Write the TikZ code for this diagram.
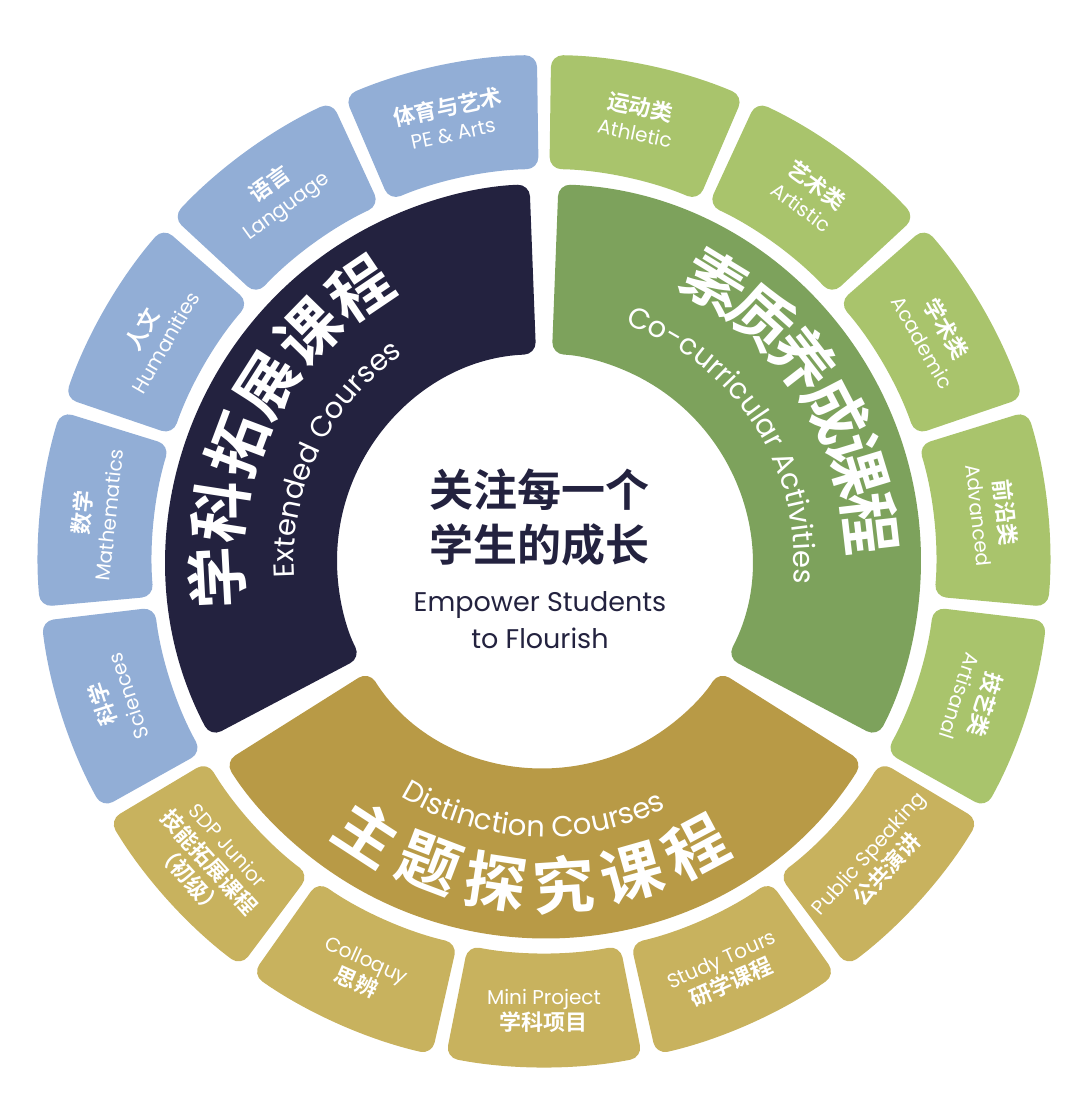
\documentclass[tikz,border=0pt]{standalone}
\usepackage{fontspec}
\setmainfont{Poppins}
\newfontfamily\cjk{Noto Sans CJK SC Bold}
\usetikzlibrary{decorations.text}
\definecolor{navy}{HTML}{23223F}
\definecolor{midgreen}{HTML}{7DA25C}
\definecolor{midgold}{HTML}{B89A46}
\definecolor{lblue}{HTML}{92AED6}
\definecolor{lgreen}{HTML}{A9C46C}
\definecolor{lgold}{HTML}{C8B25E}
\newcommand{\annsec}[5]{%
  \fill[#1, rounded corners=6pt] (#2:#4) arc[start angle=#2, end angle=#3, radius=#4]
    -- (#3:#5) arc[start angle=#3, end angle=#2, radius=#5] -- cycle;}
\newcommand{\ringfont}{\fontsize{14.5}{15}\selectfont}
\tikzset{
  seglab/.style={text=white, align=center, inner sep=0pt, font=\fontsize{10}{13}\selectfont},
  bigch/.style={text=white, inner sep=0pt, font=\cjk\fontsize{31}{31}\selectfont},
  ringtext/.style={decorate, decoration={text along path, text align=center, text color=white, text={|\ringfont|#1}}}
}
\begin{document}
\begin{tikzpicture}[x=0.5pt, y=0.5pt]
\useasboundingbox (-544,-558) rectangle (536,561);
% middle ring
\annsec{navy}{92.2}{207.8}{207}{377}
\annsec{midgold}{212.2}{327.8}{207}{377}
\annsec{midgreen}{-27.8}{87.8}{207}{377}
% outer ring
\foreach \a in {90,114,...,186} {\annsec{lblue}{\a+0.8}{\a+23.2}{392}{506}}
\foreach \a in {-30,-6,...,66} {\annsec{lgreen}{\a+0.8}{\a+23.2}{392}{506}}
\foreach \a in {210,234,...,306} {\annsec{lgold}{\a+0.8}{\a+23.2}{392}{506}}
% outer labels
\foreach \a/\c/\t in {102/体育与艺术/PE \& Arts, 126/语言/Language, 150/人文/Humanities,
    174/数学/Mathematics, 198/科学/Sciences, 78/运动类/Athletic, 54/艺术类/Artistic,
    30/学术类/Academic, 6/前沿类/Advanced, -18/技艺类/Artisanal}
  \node[seglab, rotate=\a-90] (lab\a) at (\a:452) {{\cjk\fontsize{11}{13}\selectfont \c}\\\t};
\node[seglab, rotate=312] (sdp) at (222:452) {SDP Junior\\{\cjk\fontsize{11}{13}\selectfont 技能拓展课程}\\{\cjk\fontsize{11}{13}\selectfont （初级）}};
\foreach \a/\t/\c in {246/Colloquy/思辨, 270/Mini Project/学科项目, 294/Study Tours/研学课程, 318/Public Speaking/公共演讲}
  \node[seglab, rotate=\a+90] (lab\a) at (\a:450) {\t\\{\cjk\fontsize{11}{13}\selectfont \c}};
% ring titles
\foreach \c [count=\i from 0] in {学,科,拓,展,课,程}
  \node[bigch, rotate={93-\i*11.8}] (ext\i) at ({183-\i*11.8}:328) {\c};
\foreach \c [count=\i from 0] in {素,质,养,成,课,程}
  \node[bigch, rotate={-31.4-\i*10.4}] (co\i) at ({58.6-\i*10.4}:328) {\c};
\foreach \c [count=\i from 0] in {主,题,探,究,课,程}
  \node[bigch, rotate={327+\i*12.2}] (dis\i) at ({237+\i*12.2}:324) {\c};
\path[ringtext={Extended Courses}] (188:250) arc[start angle=188, end angle=120, radius=250];
\path[ringtext={Co-curricular Activities}] (78:250) arc[start angle=78, end angle=-12, radius=250];
\path[ringtext={Distinction Courses}] (232:276) arc[start angle=232, end angle=303, radius=276];
% centre
\node[text=navy, align=center, inner sep=0pt, font=\cjk\fontsize{22}{27.5}\selectfont] (motto) at (-4,44) {关注每一个\\学生的成长};
\node[text=navy, align=center, inner sep=0pt, font=\fontsize{13.5}{18.5}\selectfont] (mottoen) at (-4,-59) {Empower Students\\to Flourish};
\end{tikzpicture}
\end{document}
